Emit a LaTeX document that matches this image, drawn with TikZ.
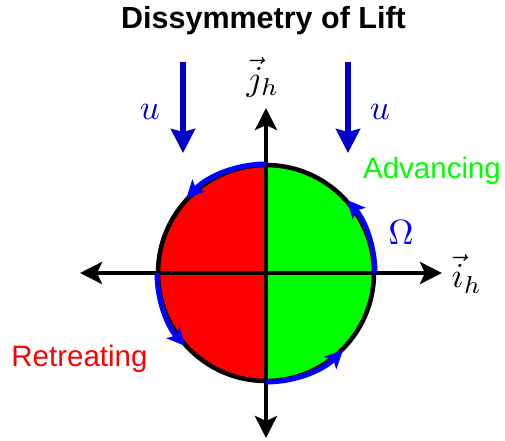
\documentclass[tikz,border=0pt]{standalone}
\usepackage{fontspec}
\setmainfont{Liberation Sans}
\usetikzlibrary{arrows.meta}
\definecolor{myred}{RGB}{255,0,0}
\definecolor{mygreen}{RGB}{0,255,0}
\definecolor{myblue}{RGB}{0,0,255}
\definecolor{ublue}{RGB}{0,0,200}
\tikzset{
  axis/.style={line width=4pt, -{Stealth[length=22pt,width=22pt,inset=5pt]}},
  rot/.style={myblue, line width=5pt, -{Stealth[length=18pt,width=17pt,inset=4pt]}},
  flow/.style={ublue, line width=6pt, -{Stealth[length=24pt,width=24pt,inset=3pt]}},
  mlabel/.style={inner sep=0pt, scale=3.5},
  wlabel/.style={inner sep=0pt, font=\fontsize{29.5}{34}\selectfont}
}
\begin{document}
\begin{tikzpicture}[x=1pt,y=1pt]
\useasboundingbox (0,0) rectangle (505,440);
\coordinate (c) at (266,167);
% halves
\fill[myred] (266,275) arc[start angle=90,end angle=270,radius=108] -- cycle;
\fill[mygreen] (266,59) arc[start angle=-90,end angle=90,radius=108] -- cycle;
\draw[line width=4.5pt] (c) circle[radius=108];
% axes
\coordinate (xl) at (80,167);
\coordinate (xr) at (442,167);
\coordinate (yt) at (266,332);
\coordinate (yb) at (266,2);
\draw[axis] (c) -- (xl);
\draw[axis] (c) -- (xr);
\draw[axis] (c) -- (yt);
\draw[axis] (c) -- (yb);
% rotation arcs
\draw[rot] (c) ++(90:109) arc[start angle=90,end angle=137,radius=109];
\draw[rot] (c) ++(180:109) arc[start angle=180,end angle=222,radius=109];
\draw[rot] (c) ++(270:109) arc[start angle=270,end angle=315,radius=109];
\draw[rot] (c) ++(0:109) arc[start angle=0,end angle=42,radius=109];
% free stream arrows
\coordinate (u1s) at (183,378);
\coordinate (u1e) at (183,287);
\coordinate (u2s) at (348,378);
\coordinate (u2e) at (348,287);
\draw[flow] (u1s) -- (u1e);
\draw[flow] (u2s) -- (u2e);
% labels
\node[mlabel, text=ublue] (ul) at (150,328) {$u$};
\node[mlabel, text=ublue] (ur) at (380,328) {$u$};
\node[mlabel, text=myblue] (om) at (401,207) {$\Omega$};
\node[mlabel, anchor=west] (ih) at (451,166) {$\vec{i}_h$};
\node[mlabel] (jh) at (263,363) {$\vec{j}_h$};
\node[wlabel, text=mygreen, anchor=base] (adv) at (432,262) {Advancing};
\node[wlabel, text=myred, anchor=base] (ret) at (79.5,74) {Retreating};
\node[inner sep=0pt, anchor=base, font=\fontsize{30.5}{36}\selectfont\bfseries] (title) at (263.5,411) {Dissymmetry of Lift};
\end{tikzpicture}
\end{document}
